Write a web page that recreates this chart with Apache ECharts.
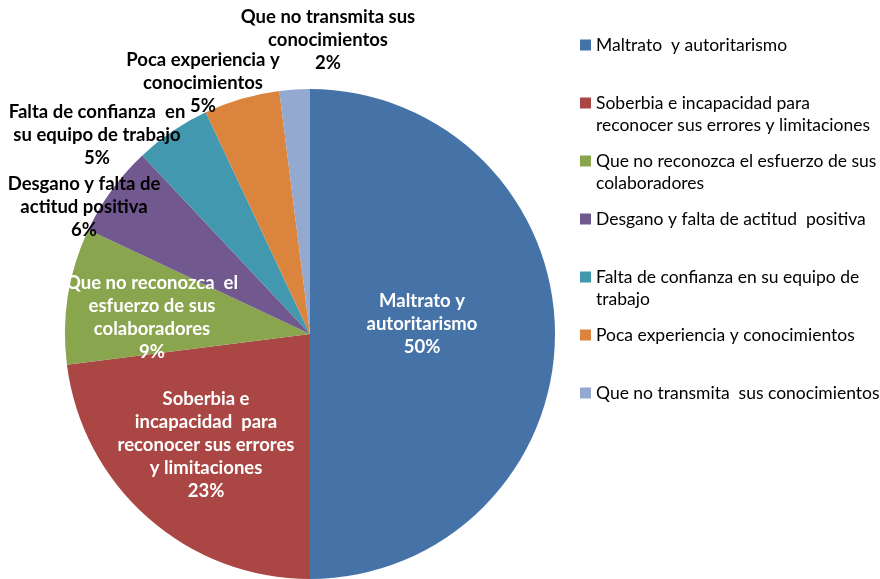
<!DOCTYPE html>
<html>
<head>
<meta charset="utf-8">
<script src="https://cdn.jsdelivr.net/npm/echarts@6/dist/echarts.min.js"></script>
<style>
  html, body { margin: 0; padding: 0; background: #fff; }
  #chart { width: 880px; height: 579px; }
</style>
</head>
<body>
<div id="chart"></div>
<script>
// datos del grafico
const categories = [
  "Maltrato y autoritarismo",
  "Soberbia e incapacidad para reconocer sus errores y limitaciones",
  "Que no reconozca el esfuerzo de sus colaboradores",
  "Desgano y falta de actitud positiva",
  "Falta de confianza en su equipo de trabajo",
  "Poca experiencia y conocimientos",
  "Que no transmita sus conocimientos"
];
const values = [50, 23, 9, 6, 5, 5, 2];
const sliceLabels = [
  "Maltrato y\nautoritarismo",
  "Soberbia e\nincapacidad  para\nreconocer sus errores\ny limitaciones",
  "Que no reconozca  el\nesfuerzo de sus\ncolaboradores",
  "Desgano y falta de\nactitud positiva",
  "Falta de confianza  en\nsu equipo de trabajo",
  "Poca experiencia y\nconocimientos",
  "Que no transmita sus\nconocimientos"
];
const legendLabels = [
  "Maltrato  y autoritarismo",
  "Soberbia e incapacidad para\nreconocer sus errores y limitaciones",
  "Que no reconozca el esfuerzo de sus\ncolaboradores",
  "Desgano y falta de actitud  positiva",
  "Falta de confianza en su equipo de\ntrabajo",
  "Poca experiencia y conocimientos",
  "Que no transmita  sus conocimientos"
];
const colors = ["#4572A7", "#AA4643", "#89A54E", "#71588F", "#4198AF", "#DB843D", "#93A9CF"];

// posiciones de las etiquetas (centro)
const labelPos = [[422, 324], [206, 445], [152, 318], [84, 207], [97, 135], [203, 83], [328, 40]];
const font = "Lato, 'Open Sans', sans-serif";

const chart = echarts.init(document.getElementById("chart"));

// una leyenda por entrada; el cuadro queda alineado con la primera linea
const legends = categories.map((name, i) => {
  const twoLines = legendLabels[i].indexOf("\n") >= 0;
  const markerY = 45 + 58 * i;
  return {
    data: [name],
    orient: "vertical",
    left: 580,
    top: markerY - (twoLines ? 33 : 11),
    padding: 0,
    icon: "rect",
    itemWidth: 11,
    itemHeight: 11,
    itemGap: 0,
    selectedMode: false,
    formatter: () => (twoLines ? " \n" : "") + legendLabels[i],
    textStyle: {
      fontFamily: font,
      fontSize: 17.5,
      color: "#000",
      lineHeight: 22
    }
  };
});

const option = {
  animation: false,
  color: colors,
  legend: legends,
  series: [
    {
      type: "pie",
      center: [310, 334],
      radius: 245,
      startAngle: 90,
      clockwise: true,
      emphasis: { disabled: true },
      labelLine: { show: false },
      label: {
        show: true,
        position: "inside",
        fontFamily: font,
        fontSize: 18.5,
        fontWeight: "bold",
        lineHeight: 23,
        align: "center",
        formatter: (p) => sliceLabels[p.dataIndex] + "\n" + p.value + "%"
      },
      labelLayout: (p) => ({
        x: labelPos[p.dataIndex][0],
        y: labelPos[p.dataIndex][1],
        align: "center",
        verticalAlign: "middle"
      }),
      data: categories.map((name, i) => ({
        name: name,
        value: values[i],
        label: { color: i < 3 ? "#fff" : "#000" }
      }))
    }
  ]
};

chart.setOption(option);
</script>
</body>
</html>
